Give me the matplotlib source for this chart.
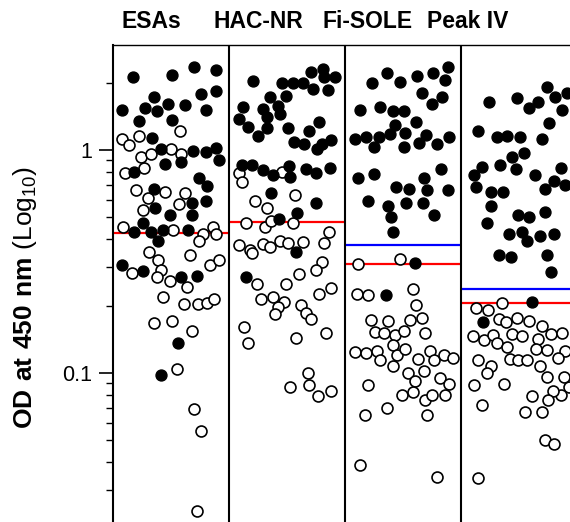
import numpy as np
import matplotlib
matplotlib.use("Agg")
import matplotlib.pyplot as plt
from matplotlib.ticker import LogLocator, FixedLocator, FixedFormatter, NullFormatter

plt.rcParams['font.family'] = ['Liberation Sans', 'DejaVu Sans']
plt.rcParams['mathtext.fontset'] = 'custom'
plt.rcParams['mathtext.rm'] = 'Liberation Sans'
plt.rcParams['mathtext.bf'] = 'Liberation Sans:bold'

groups = ["ESAs", "HAC-NR", "Fi-SOLE", "Peak IV"]

# ---- ESAs ----
esas_pos_x = [0.17, 0.51, 0.70, 0.89, 0.35, 0.76, 0.89, 0.08, 0.28, 0.38, 0.47, 0.62, 0.80, 0.22, 0.51,
              0.34, 0.41, 0.69, 0.80, 0.89, 0.91, 0.45, 0.59, 0.18, 0.74, 0.81, 0.35, 0.36, 0.68, 0.80,
              0.49, 0.68, 0.26, 0.18, 0.33, 0.43, 0.65, 0.39, 0.08, 0.26, 0.59, 0.72, 0.56, 0.41]
esas_pos_y = [2.12, 2.17, 2.36, 2.28, 1.73, 1.78, 1.83, 1.51, 1.55, 1.50, 1.60, 1.59, 1.51, 1.35, 1.37,
              1.13, 1.01, 0.99, 0.98, 1.02, 0.90, 0.87, 0.88, 0.80, 0.75, 0.69, 0.67, 0.55, 0.58, 0.59,
              0.51, 0.51, 0.47, 0.43, 0.43, 0.44, 0.44, 0.39, 0.305, 0.288, 0.269, 0.272, 0.136, 0.098]
esas_neg_x = [0.58, 0.08, 0.14, 0.22, 0.24, 0.33, 0.50, 0.59, 0.10, 0.27, 0.20, 0.30, 0.45, 0.62, 0.26,
              0.57, 0.09, 0.52, 0.86, 0.78, 0.89, 0.74, 0.31, 0.39, 0.66, 0.84, 0.91, 0.16, 0.41, 0.38,
              0.49, 0.64, 0.43, 0.61, 0.73, 0.81, 0.87, 0.35, 0.51, 0.68, 0.55, 0.70, 0.76, 0.72]
esas_neg_y = [1.22, 1.12, 1.05, 1.15, 0.93, 0.96, 1.01, 0.96, 0.79, 0.83, 0.66, 0.61, 0.65, 0.64, 0.54,
              0.57, 0.45, 0.44, 0.45, 0.42, 0.42, 0.39, 0.35, 0.32, 0.34, 0.305, 0.32, 0.28, 0.29, 0.27,
              0.26, 0.244, 0.22, 0.204, 0.204, 0.207, 0.215, 0.168, 0.171, 0.155, 0.104, 0.069, 0.055, 0.024]

# ---- HAC-NR ----
hac_pos_x = [0.21, 0.46, 0.55, 0.64, 0.71, 0.81, 0.82, 0.91, 0.72, 0.85, 0.35, 0.49, 0.12, 0.29, 0.42,
             0.09, 0.33, 0.44, 0.16, 0.25, 0.33, 0.51, 0.78, 0.69, 0.56, 0.65, 0.76, 0.80, 0.88, 0.11,
             0.20, 0.29, 0.38, 0.52, 0.53, 0.66, 0.75, 0.87, 0.36, 0.75, 0.43, 0.59, 0.58, 0.15]
hac_pos_y = [2.03, 2.00, 2.00, 1.99, 2.23, 2.31, 2.13, 2.12, 1.88, 1.85, 1.73, 1.75, 1.56, 1.53, 1.58,
             1.38, 1.41, 1.45, 1.27, 1.16, 1.25, 1.26, 1.33, 1.22, 1.09, 1.06, 1.01, 1.06, 1.11, 0.86,
             0.86, 0.81, 0.77, 0.85, 0.76, 0.82, 0.79, 0.83, 0.64, 0.58, 0.49, 0.52, 0.35, 0.27]
hac_neg_x = [0.09, 0.11, 0.46, 0.57, 0.22, 0.33, 0.15, 0.31, 0.36, 0.55, 0.86, 0.09, 0.18, 0.20, 0.29,
             0.35, 0.44, 0.51, 0.64, 0.82, 0.80, 0.75, 0.60, 0.24, 0.49, 0.88, 0.78, 0.28, 0.38, 0.47,
             0.42, 0.40, 0.62, 0.66, 0.71, 0.13, 0.16, 0.58, 0.84, 0.68, 0.53, 0.69, 0.77, 0.88]
hac_neg_y = [0.79, 0.72, 0.80, 0.63, 0.59, 0.55, 0.47, 0.45, 0.48, 0.47, 0.43, 0.376, 0.356, 0.344, 0.378,
             0.368, 0.391, 0.384, 0.387, 0.382, 0.316, 0.290, 0.278, 0.251, 0.251, 0.241, 0.226, 0.214, 0.220, 0.209,
             0.198, 0.184, 0.203, 0.186, 0.174, 0.161, 0.136, 0.143, 0.152, 0.100, 0.087, 0.088, 0.079, 0.083]

# ---- Fi-SOLE ----
fis_pos_x = [0.23, 0.36, 0.47, 0.62, 0.76, 0.89, 0.86, 0.66, 0.75, 0.84, 0.13, 0.30, 0.41, 0.51, 0.61,
             0.43, 0.09, 0.18, 0.29, 0.25, 0.39, 0.52, 0.51, 0.64, 0.70, 0.79, 0.90, 0.11, 0.25, 0.44,
             0.55, 0.68, 0.83, 0.71, 0.89, 0.20, 0.37, 0.53, 0.67, 0.77, 0.40, 0.41, 0.60, 0.35]
fis_pos_y = [2.00, 2.22, 2.02, 2.15, 2.22, 2.35, 2.05, 1.81, 1.61, 1.72, 1.51, 1.56, 1.50, 1.49, 1.34,
             1.29, 1.12, 1.14, 1.14, 1.03, 1.18, 1.19, 1.03, 1.07, 1.17, 1.06, 1.14, 0.75, 0.78, 0.68,
             0.67, 0.75, 0.82, 0.66, 0.66, 0.59, 0.56, 0.58, 0.58, 0.51, 0.50, 0.43, 0.31, 0.223]
fis_neg_x = [0.11, 0.47, 0.10, 0.20, 0.59, 0.61, 0.22, 0.37, 0.56, 0.66, 0.26, 0.34, 0.43, 0.51, 0.69,
             0.41, 0.09, 0.18, 0.28, 0.30, 0.45, 0.52, 0.41, 0.63, 0.73, 0.77, 0.85, 0.93, 0.68, 0.54,
             0.60, 0.82, 0.90, 0.20, 0.49, 0.59, 0.69, 0.75, 0.86, 0.36, 0.17, 0.71, 0.13, 0.79]
fis_neg_y = [0.307, 0.326, 0.226, 0.223, 0.239, 0.202, 0.173, 0.171, 0.173, 0.177, 0.153, 0.152, 0.148, 0.155, 0.151,
             0.134, 0.124, 0.123, 0.126, 0.114, 0.120, 0.128, 0.108, 0.116, 0.125, 0.115, 0.120, 0.117, 0.102, 0.0997,
             0.092, 0.095, 0.089, 0.088, 0.080, 0.082, 0.076, 0.080, 0.080, 0.070, 0.065, 0.065, 0.0387, 0.0343]

# ---- Peak IV ----
pk_pos_x = [0.24, 0.48, 0.59, 0.66, 0.74, 0.81, 0.91, 0.87, 0.76, 0.15, 0.31, 0.40, 0.51, 0.70, 0.54,
            0.44, 0.18, 0.11, 0.34, 0.47, 0.64, 0.86, 0.80, 0.90, 0.72, 0.13, 0.26, 0.36, 0.26, 0.49,
            0.59, 0.72, 0.22, 0.41, 0.53, 0.57, 0.68, 0.80, 0.33, 0.43, 0.74, 0.78, 0.61, 0.19]
pk_pos_y = [1.64, 1.71, 1.54, 1.65, 1.92, 1.73, 1.81, 1.51, 1.32, 1.22, 1.14, 1.16, 1.14, 1.12, 0.97,
            0.93, 0.84, 0.77, 0.86, 0.82, 0.77, 0.83, 0.73, 0.70, 0.67, 0.68, 0.65, 0.65, 0.56, 0.51,
            0.50, 0.53, 0.47, 0.42, 0.43, 0.39, 0.41, 0.42, 0.338, 0.330, 0.340, 0.283, 0.208, 0.170]
pk_neg_x = [0.35, 0.13, 0.23, 0.33, 0.39, 0.48, 0.59, 0.70, 0.78, 0.87, 0.10, 0.20, 0.28, 0.31, 0.44,
            0.53, 0.66, 0.40, 0.65, 0.74, 0.90, 0.84, 0.15, 0.26, 0.22, 0.42, 0.49, 0.57, 0.68, 0.74,
            0.89, 0.93, 0.86, 0.79, 0.75, 0.11, 0.37, 0.61, 0.18, 0.55, 0.70, 0.72, 0.80, 0.15]
pk_neg_y = [0.207, 0.195, 0.192, 0.174, 0.169, 0.177, 0.171, 0.163, 0.150, 0.152, 0.146, 0.141, 0.148, 0.137, 0.149,
            0.147, 0.142, 0.131, 0.128, 0.127, 0.125, 0.117, 0.114, 0.108, 0.100, 0.116, 0.114, 0.114, 0.108, 0.096,
            0.096, 0.087, 0.080, 0.083, 0.076, 0.088, 0.089, 0.079, 0.072, 0.067, 0.067, 0.050, 0.048, 0.034]

pos_x = [esas_pos_x, hac_pos_x, fis_pos_x, pk_pos_x]
pos_y = [esas_pos_y, hac_pos_y, fis_pos_y, pk_pos_y]
neg_x = [esas_neg_x, hac_neg_x, fis_neg_x, pk_neg_x]
neg_y = [esas_neg_y, hac_neg_y, fis_neg_y, pk_neg_y]

red_cutoff = [0.423, 0.477, 0.307, 0.207]
blue_cutoff = [None, None, 0.375, 0.237]

W, H = 570, 522
fig = plt.figure(figsize=(W / 100, H / 100), dpi=100)
left_px, top_px = 113, 45
ax = fig.add_axes([left_px / W, 0, (W - left_px) / W, (H - top_px) / H])
ax.set_yscale('log')
ax.set_ylim(0.0215, 2.957)
panel_w = 116.0
ax.set_xlim(0, (W - left_px) / panel_w)

for i in range(4):
    ax.hlines(red_cutoff[i], i, i + 1, colors='#ff0000', lw=1.6, zorder=1)
    if blue_cutoff[i] is not None:
        ax.hlines(blue_cutoff[i], i, i + 1, colors='#0000ff', lw=1.6, zorder=1)
    px = np.array(pos_x[i]) + i
    nx = np.array(neg_x[i]) + i
    ax.scatter(nx, neg_y[i], s=62, facecolors='white', edgecolors='black', linewidths=1.2, zorder=3)
    ax.scatter(px, pos_y[i], s=62, facecolors='black', edgecolors='black', linewidths=1.0, zorder=4)

for xb in [1, 2, 3]:
    ax.axvline(xb, color='black', lw=1.5, zorder=5)

for s in ['right', 'bottom']:
    ax.spines[s].set_visible(False)
ax.spines['left'].set_linewidth(1.5)
ax.spines['top'].set_linewidth(1.0)
ax.set_xticks([])

ax.yaxis.set_major_locator(FixedLocator([0.01, 0.1, 1]))
ax.yaxis.set_major_formatter(FixedFormatter(['0.01', '0.1', '1']))
ax.yaxis.set_minor_locator(LogLocator(base=10, subs=np.arange(2, 10)))
ax.yaxis.set_minor_formatter(NullFormatter())
ax.tick_params(axis='y', which='major', length=10, width=1.2, labelsize=15.5, pad=5)
ax.tick_params(axis='y', which='minor', length=5, width=1.0)

fig.text(25 / W, 1 - 297 / H, r"$\mathbf{OD\ at\ 450\ nm}$ (Log$_{10}$)", fontsize=19,
         rotation=90, ha='center', va='center')

title_x = [151, 258, 368, 468]
for name, tx in zip(groups, title_x):
    fig.text(tx / W, 1 - 21 / H, name, ha='center', va='center', fontsize=16.5, fontweight='bold')

fig.savefig('out.png', dpi=100)
